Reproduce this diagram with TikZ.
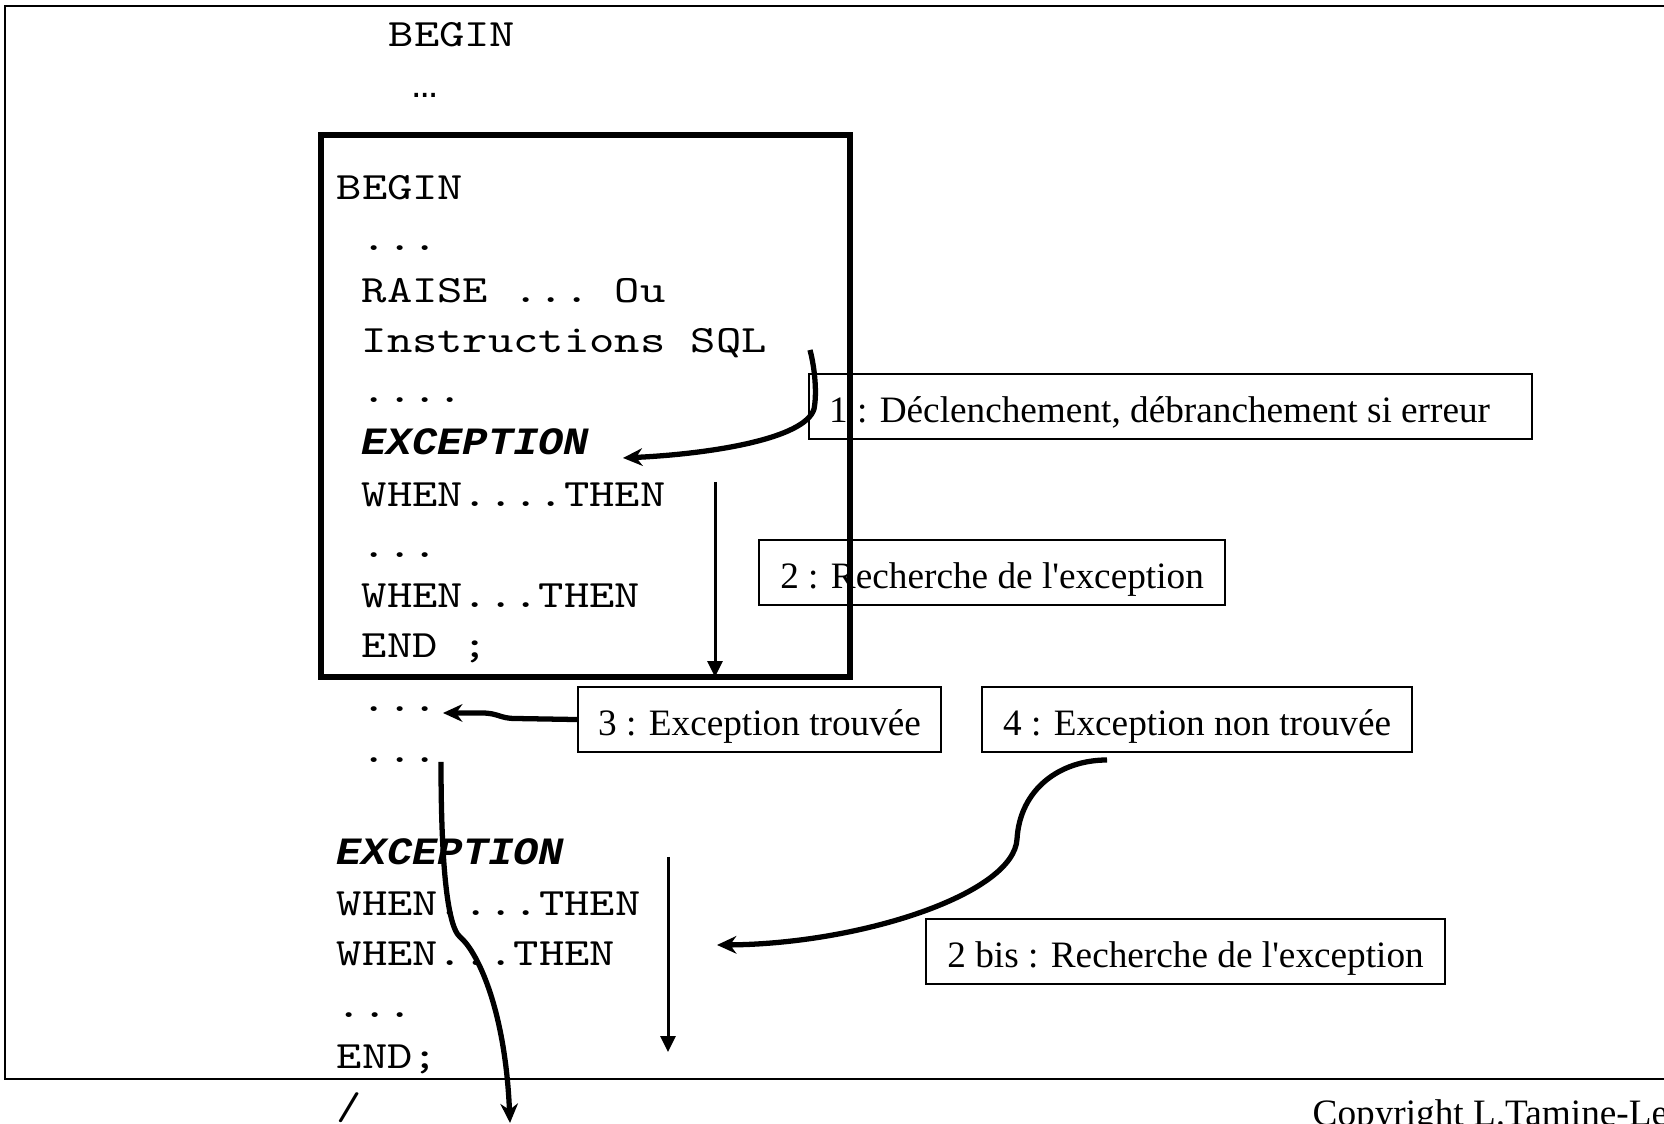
\documentclass[tikz,border=0pt]{standalone}
\usepackage{fontspec}
\setmainfont{Liberation Serif}
\setmonofont[FakeStretch=1.247]{Latin Modern Mono}
\newfontfamily\keyfont[FakeStretch=1.09]{Liberation Mono}
\usetikzlibrary{arrows.meta, positioning}

\begin{document}
\begin{tikzpicture}[
    code/.style={
        font=\ttfamily\fontsize{11}{13}\selectfont,
        anchor=base west,
        inner sep=0pt
    },
    keyword/.style={
        code,
        font=\keyfont\bfseries\itshape\fontsize{11}{13}\selectfont
    },
    stepbox/.style={
        draw,
        line width=0.6pt,
        anchor=north west,
        font=\fontsize{10.6}{12}\selectfont,
        inner xsep=0.2cm,
        inner ysep=0pt,
        text height=0.36cm,
        text depth=0.05cm,
        minimum height=0.65cm
    },
    curve arrow/.style={
        line width=1.5pt,
        -{Stealth[length=5.5pt, width=5pt]}
    },
    plain arrow/.style={
        line width=0.85pt,
        -{Triangle[length=4.5pt, width=4.2pt]}
    }
]
    \useasboundingbox (0,0) rectangle (16.64,11.24);

    % frames
    \draw[line width=0.7pt] (16.80,11.18) -- (0.05,11.18) -- (0.05,0.45) -- (16.80,0.45);
    \draw[line width=1.6pt] (3.21,4.47) rectangle (8.50,9.89);

    \node[code] (topbegin) at (3.88,10.77) {BEGIN};
    \node[code, font=\keyfont\fontsize{11}{13}\selectfont] (topdots) at (4.12,10.26) {…};

    % inner block
    \node[code] (inbegin) at (3.36,9.24) {BEGIN};
    \node[code] (indotsA) at (3.61,8.73) {...};
    \node[code] (raise) at (3.61,8.21) {RAISE ... Ou};
    \node[code] (sql) at (3.61,7.71) {Instructions SQL};
    \node[code] (indotsB) at (3.61,7.21) {....};
    \node[keyword] (inexc) at (3.61,6.69) {EXCEPTION};
    \node[code] (inwhenA) at (3.61,6.17) {WHEN....THEN};
    \node[code] (indotsC) at (3.61,5.66) {...};
    \node[code] (inwhenB) at (3.61,5.16) {WHEN...THEN};
    \node[code] (inend) at (3.61,4.66) {END ;};

    % outer block
    \node[code] (outdotsA) at (3.61,4.12) {...};
    \node[code] (outdotsB) at (3.61,3.61) {...};
    \node[keyword] (outexc) at (3.36,2.59) {EXCEPTION};
    \node[code] (outwhenA) at (3.36,2.08) {WHEN....THEN};
    \node[code] (outwhenB) at (3.36,1.58) {WHEN...THEN};
    \node[code] (outdotsC) at (3.36,1.06) {...};
    \node[code] (outend) at (3.36,0.55) {END;};
    \node[code] (slash) at (3.36,0.04) {/};

    % steps
    \node[stepbox, text width=6.83cm, align=flush left] (step1) at (8.08,7.51) {1 : Déclenchement, débranchement si erreur};
    \node[stepbox, minimum width=4.66cm] (step2) at (7.58,5.85) {2 : Recherche de l\textquotesingle exception};
    \node[stepbox, minimum width=3.63cm] (step3) at (5.77,4.38) {3 : Exception trouvée};
    \node[stepbox, minimum width=4.30cm] (step4) at (9.81,4.38) {4 : Exception non trouvée};
    \node[stepbox, minimum width=5.19cm] (step2bis) at (9.25,2.06) {2 bis : Recherche de l\textquotesingle exception};

    \node[anchor=base west, inner sep=0pt, font=\fontsize{10.6}{12}\selectfont] (copyright) at (13.12,-0.02) {Copyright L.Tamine-Le};

    \coordinate (raised) at (8.10,7.74);
    \coordinate (handler) at (6.23,6.66);
    \coordinate (searchtop) at (7.15,6.42);
    \coordinate (searchend) at (7.15,4.47);
    \coordinate (resume) at (4.43,4.11);
    \coordinate (notfound) at (11.07,3.64);
    \coordinate (outerhandler) at (7.17,1.79);
    \coordinate (outsearchtop) at (6.68,2.67);
    \coordinate (outsearchend) at (6.68,0.72);
    \coordinate (leave) at (4.41,3.62);
    \coordinate (propagate) at (5.10,0.01);

    \draw[curve arrow] (raised) .. controls (8.15,7.55) and (8.17,7.30) .. (8.14,7.15)
        .. controls (8.05,6.85) and (7.10,6.70) .. (handler);
    \draw[plain arrow] (searchtop) -- (searchend);
    \draw[curve arrow] (step3.west) -- (5.15,4.055) .. controls (5.00,4.055) and (4.98,4.11) .. (4.82,4.11) -- (resume);
    \draw[curve arrow] (notfound) .. controls (10.60,3.64) and (10.20,3.35) .. (10.17,2.85)
        .. controls (10.14,2.30) and (8.60,1.80) .. (outerhandler);
    \draw[plain arrow] (outsearchtop) -- (outsearchend);
    \draw[curve arrow] (leave) .. controls (4.41,2.80) and (4.45,2.00) .. (4.60,1.87)
        .. controls (4.75,1.75) and (5.05,1.20) .. (propagate);
\end{tikzpicture}
\end{document}
